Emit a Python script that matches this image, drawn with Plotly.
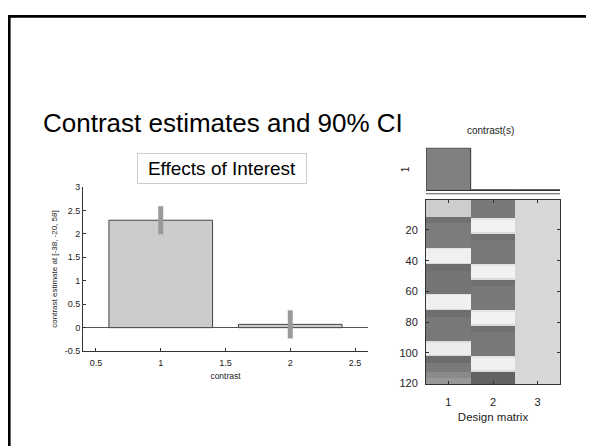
import plotly.graph_objects as go

OFF = 8  # page body margin
W, H = 594 - OFF, 446 - OFF
FONT = "Liberation Sans, Arial, sans-serif"

# ---- data: contrast estimates ----
contrast_x = [1, 2]
contrast_estimate = [2.29, 0.07]
ci_halfwidth = [0.30, 0.30]
bar_xticks = [0.5, 1, 1.5, 2, 2.5]
bar_xticklabels = ["0.5", "1", "1.5", "2", "2.5"]
bar_yticks = [-0.5, 0, 0.5, 1, 1.5, 2, 2.5, 3]
bar_yticklabels = ["-0.5", "0", "0.5", "1", "1.5", "2", "2.5", "3"]

# ---- data: contrast weights ----
contrast_cols = [1, 2, 3]
contrast_weights = [1, 0, 0]

# ---- data: design matrix (runs of rows: start, end, gray level 0-255) ----
dm_rows = 120
dm_col1_runs = [(1, 11, 205), (12, 15, 112), (16, 31, 124), (32, 32, 226),
                (33, 41, 240), (42, 42, 218), (43, 46, 110), (47, 61, 117),
                (62, 62, 226), (63, 71, 240), (72, 72, 218), (73, 76, 110),
                (77, 92, 120), (93, 93, 222), (94, 101, 236), (102, 102, 214),
                (103, 106, 108), (107, 112, 122), (113, 116, 138), (117, 120, 152)]
dm_col2_runs = [(1, 12, 120), (13, 13, 228), (14, 21, 242), (22, 22, 220),
                (23, 26, 112), (27, 42, 120), (43, 43, 228), (44, 51, 242),
                (52, 52, 220), (53, 56, 112), (57, 72, 120), (73, 73, 228),
                (74, 81, 242), (82, 82, 220), (83, 86, 112), (87, 102, 120),
                (103, 103, 228), (104, 111, 240), (112, 112, 220), (113, 120, 98)]
dm_col3_runs = [(1, 120, 215)]
dm_yticks = [20, 40, 60, 80, 100, 120]
dm_xticks = [1, 2, 3]


def expand(runs):
    out = [0] * dm_rows
    for s, e, v in runs:
        for r in range(s, e + 1):
            out[r - 1] = v
    return out


cols = [expand(dm_col1_runs), expand(dm_col2_runs), expand(dm_col3_runs)]
dm_z = [[cols[c][r] for c in range(3)] for r in range(dm_rows)]
dm_y = list(range(1, dm_rows + 1))


def fx(p):
    return (p - OFF) / W


def fy(p):
    return 1 - (p - OFF) / H


fig = go.Figure()

# bar chart
fig.add_trace(go.Bar(
    x=contrast_x, y=contrast_estimate, width=0.8,
    marker=dict(color="#cccccc", line=dict(color="#444444", width=1)),
    error_y=dict(type="data", array=ci_halfwidth, color="#9a9a9a",
                 thickness=5, width=0),
    xaxis="x", yaxis="y", showlegend=False,
))

# contrast weights
fig.add_trace(go.Bar(
    x=contrast_cols, y=contrast_weights, width=1,
    marker=dict(color="#808080", line=dict(color="#333333", width=1)),
    xaxis="x2", yaxis="y2", showlegend=False,
))

# design matrix
fig.add_trace(go.Heatmap(
    x=dm_xticks, y=dm_y, z=dm_z, zmin=0, zmax=255,
    colorscale=[[0, "black"], [1, "white"]], showscale=False,
    xaxis="x3", yaxis="y3",
))

axcol = "#333333"
tickfont = dict(family=FONT, size=9, color="#222222")

fig.update_layout(
    width=W, height=H, margin=dict(l=0, r=0, t=0, b=0),
    paper_bgcolor="white", plot_bgcolor="white",
    font=dict(family=FONT, color="#222222"),
    xaxis=dict(domain=[fx(83), fx(368)], range=[0.4, 2.6],
               tickvals=bar_xticks, ticktext=bar_xticklabels,
               ticks="inside", ticklen=3, tickcolor=axcol,
               showline=True, linecolor=axcol, linewidth=1,
               showgrid=False, zeroline=False, tickfont=tickfont,
               ticklabelstandoff=3,
               title=dict(text="contrast", font=dict(family=FONT, size=8.5),
                          standoff=6),
               anchor="y"),
    yaxis=dict(domain=[fy(354), fy(186)], range=[-0.5, 3],
               tickvals=bar_yticks, ticktext=bar_yticklabels,
               ticks="inside", ticklen=3, tickcolor=axcol,
               showline=True, linecolor=axcol, linewidth=1,
               showgrid=False, zeroline=True, zerolinecolor="#555555",
               zerolinewidth=1, tickfont=tickfont,
               title=dict(text="contrast estimate at [-38, -20, 58]",
                          font=dict(family=FONT, size=8), standoff=5),
               anchor="x"),
    xaxis2=dict(domain=[fx(426), fx(560)], range=[0.5, 3.5],
                showticklabels=False, ticks="", showgrid=False,
                zeroline=False, showline=True, linecolor=axcol,
                linewidth=1, anchor="y2"),
    yaxis2=dict(domain=[fy(189), fy(146)], range=[0, 1],
                showticklabels=False, ticks="", showgrid=False,
                zeroline=False, showline=False, anchor="x2"),
    xaxis3=dict(domain=[fx(426), fx(560)], range=[0.5, 3.5],
                tickvals=dm_xticks, ticks="inside", ticklen=3,
                tickcolor=axcol, showline=True, mirror="ticks",
                linecolor=axcol, linewidth=1, showgrid=False,
                zeroline=False, ticklabelstandoff=7,
                tickfont=dict(family=FONT, size=11, color="#222222"),
                title=dict(text="Design matrix",
                           font=dict(family=FONT, size=11.5), standoff=6),
                anchor="y3"),
    yaxis3=dict(domain=[fy(388), fy(199.4)], range=[120.5, 0.5],
                tickvals=dm_yticks, ticks="inside", ticklen=3,
                tickcolor=axcol, showline=True, mirror="ticks",
                linecolor=axcol, linewidth=1, showgrid=False,
                zeroline=False, ticklabelstandoff=5,
                tickfont=dict(family=FONT, size=11, color="#222222"),
                anchor="x3"),
)

fig.add_shape(type="line", xref="paper", yref="paper",
              x0=fx(426), x1=fx(560), y0=fy(193), y1=fy(193),
              line=dict(color="#555555", width=1))
# slide border
fig.add_shape(type="line", xref="paper", yref="paper",
              x0=fx(9.3), x1=fx(9.3), y0=fy(10), y1=fy(470),
              line=dict(color="black", width=2.6))
fig.add_shape(type="line", xref="paper", yref="paper",
              x0=fx(8), x1=fx(620), y0=fy(11.5), y1=fy(11.5),
              line=dict(color="black", width=2.6))

fig.add_annotation(text="Contrast estimates and 90% CI", xref="paper",
                   yref="paper", x=fx(41), y=fy(121), xanchor="left",
                   yanchor="middle", showarrow=False,
                   font=dict(family=FONT, size=26, color="black"))
fig.add_annotation(text="Effects of Interest", xref="paper", yref="paper",
                   x=fx(222), y=fy(167.5), xanchor="center",
                   yanchor="middle", showarrow=False, width=166, height=27,
                   bordercolor="#cccccc", borderwidth=1, bgcolor="white",
                   font=dict(family=FONT, size=19, color="black"))
fig.add_annotation(text="contrast(s)", xref="paper", yref="paper",
                   x=fx(490), y=fy(128), xanchor="center", yanchor="middle",
                   showarrow=False,
                   font=dict(family=FONT, size=10, color="#222222"))
fig.add_annotation(text="1", xref="paper", yref="paper",
                   x=fx(405), y=fy(168), xanchor="center", yanchor="middle",
                   showarrow=False, textangle=-90,
                   font=dict(family=FONT, size=10, color="#222222"))

fig.write_html("out.html")
